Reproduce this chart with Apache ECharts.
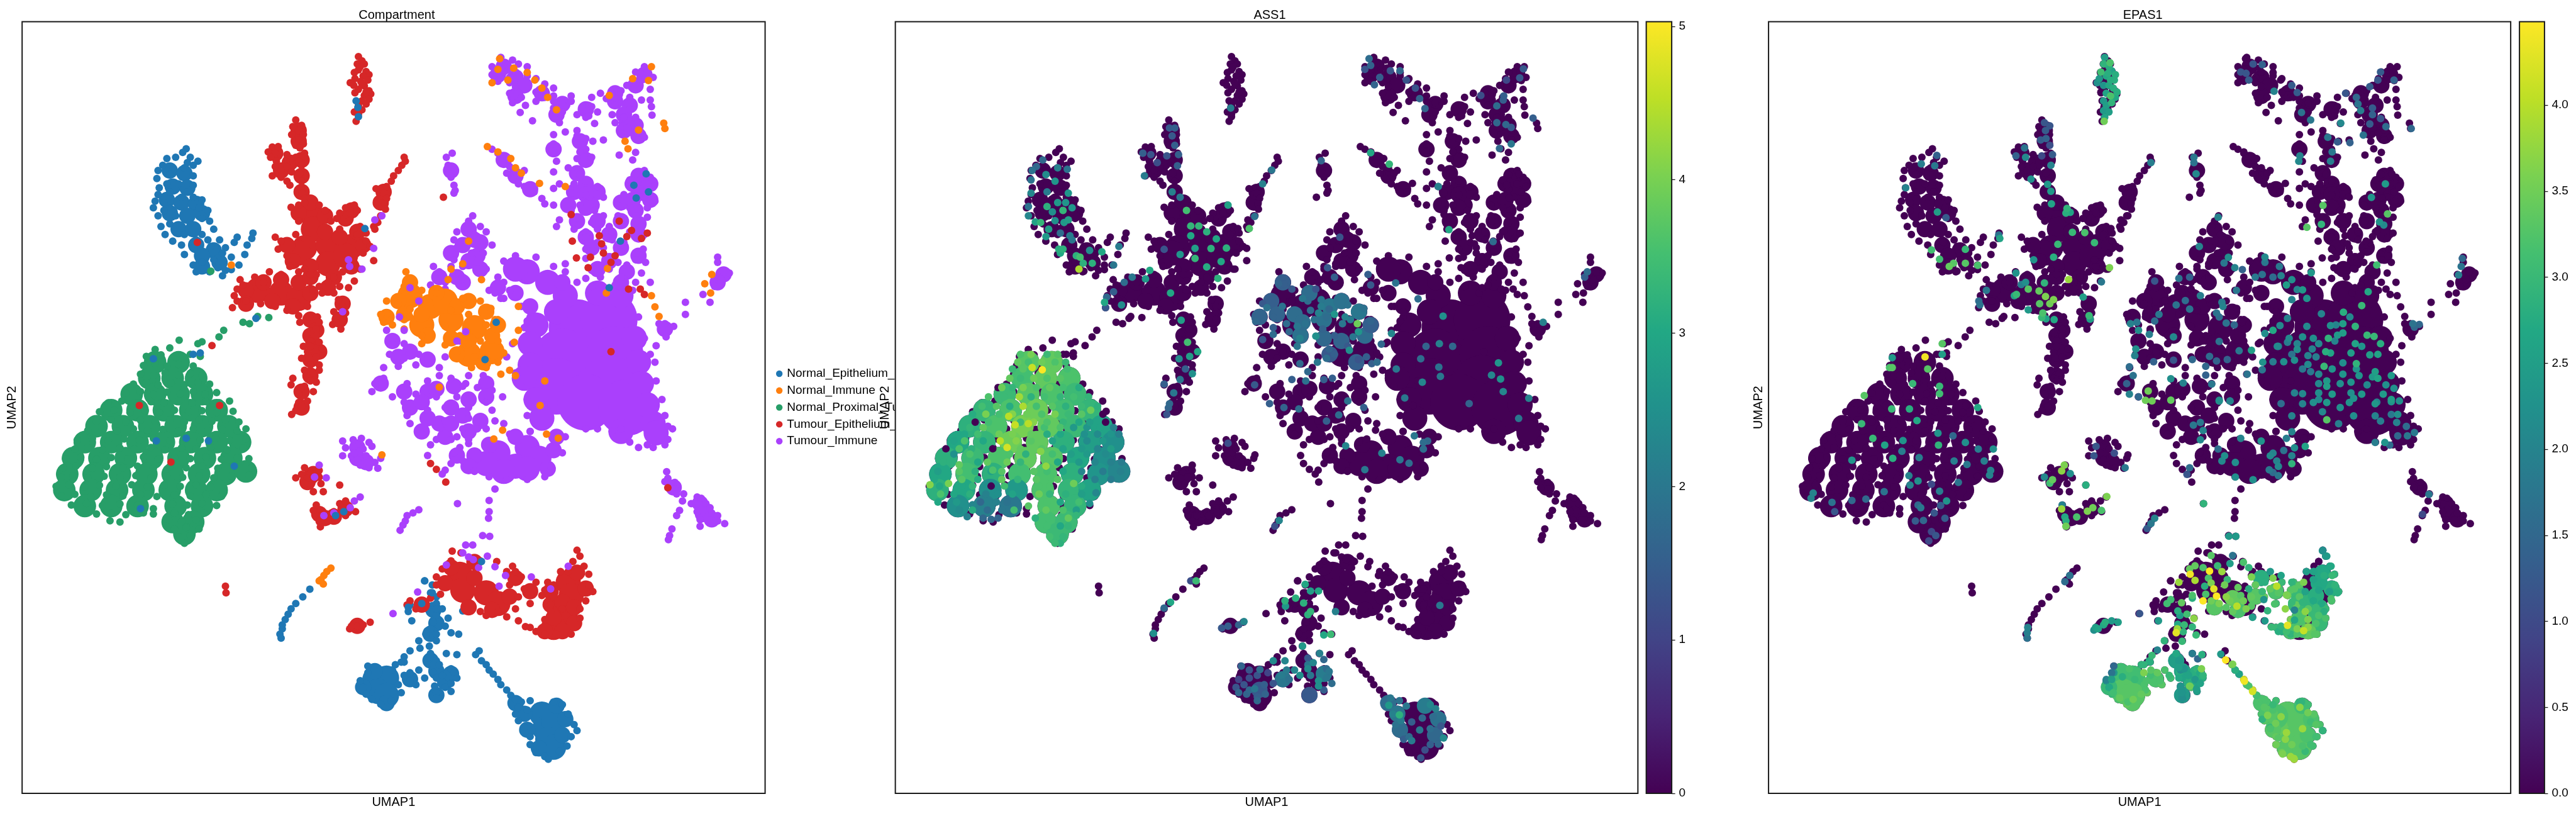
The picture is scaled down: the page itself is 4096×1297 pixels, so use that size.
<!DOCTYPE html>
<html><head><meta charset="utf-8">
<style>html,body{margin:0;padding:0;background:#fff}#c{width:4096px;height:1297px}</style>
<script src="https://cdn.jsdelivr.net/npm/echarts@6/dist/echarts.min.js"></script></head>
<body><div id="c"></div>
<script>
const panelTitles=['Compartment','ASS1','EPAS1'];
const compartments=['Normal_Epithelium_and_Vascular','Normal_Immune','Normal_Proximal_Tubules','Tumour_Epithelium_and_Vascular','Tumour_Immune'];
const ass1Ticks=[0,1,2,3,4,5];
const epas1Ticks=[0,0.5,1,1.5,2,2.5,3,3.5,4];
const ass1Max=5.03, epas1Max=4.485;

const epiDots=[[318,558],[312,572],[325,590],[300,590],[285,595],[338,605],[278,620],[320,610],[270,640],[295,640],[315,630],[330,620],[330,660],[268,670],[290,655],[305,690],[330,695],[272,705],[285,690],[320,720],[265,755],[262,780],[270,810],[345,750],[355,790],[358,830],[365,860],[345,880],[375,900],[405,890],[432,875],[430,895],[400,910],[422,920],[418,955],[385,930],[395,965],[408,995],[395,1012],[380,1035],[358,1020],[330,995],[315,955],[295,905],[282,880],[275,850],[270,730],[290,720],[310,740],[330,740],[280,760],[340,780],[280,790],[300,810],[345,820],[290,840],[315,880],[335,900],[355,900],[310,920],[330,930],[360,925],[380,950],[365,975],[345,985],[335,1020],[372,1005],[385,1015],
[480,2396],[478,2381],[482,2361],[482,2346],[487,2326],[492,2306],[497,2286],[505,2266],[517,2241],[529,2212],
[725,2181],[738,2196],[735,2226],[745,2241],[720,2256],[745,2266],[700,2271],[697,2296],[730,2286],[755,2286],[745,2311],[765,2321],[790,2294],[703,2331],[740,2336],[735,2361],[727,2381],[745,2381],[760,2351],[770,2376],[783,2381],[715,2406],[745,2406],[733,2426],[717,2434],[700,2444],[735,2454],[762,2454],[780,2458],[690,2466],[730,2471],[745,2481],[685,2486],[740,2496],[750,2496],[628,2501],[670,2516],
[628,2526],[615,2556],[620,2581],[625,2606],[635,2626],[650,2644],[668,2631],[685,2601],[680,2571],[690,2536],[700,2556],[710,2571],[715,2516],[725,2546],[740,2526],[745,2546],[755,2536],[770,2511],[775,2526],[780,2546],[770,2566],[760,2581],[770,2596],[742,2576],[745,2601],[745,2621],[675,2496],[690,2486],[700,2526],
[818,2444],[812,2458],[822,2481],[830,2496],[835,2516],[842,2531],[850,2551],[855,2571],[865,2591],[872,2611],[880,2626],[890,2636],[905,2631],
[885,2656],[900,2666],[945,2636],[960,2646],[885,2706],[895,2731],[970,2681],[980,2721],[985,2743],[975,2766],[905,2766],[905,2796],[915,2826],[930,2841],[936,2851],[955,2821],[968,2801],[880,2681]];
const epiMid=[[290,640],[315,650],[295,700],[320,705],[285,750],[310,760],[335,765],[290,800],[320,810],[345,800],[305,860],[330,860],[335,920],[365,940],[345,960],[375,985],[345,1000],[740,2290],[745,2340],[735,2380],[735,2480],[745,2520],[760,2560],[700,2550],[640,2520],[620,2580],[660,2640],[770,2530],[745,2610],[880,2640],[895,2680],[900,2740],[965,2700],[960,2760],[920,2810],[950,2650]];
const epiCore=[[640,2551],[660,2546],[645,2596],[660,2611],[925,2681],[930,2736],[945,2706],[935,2776],[945,2806]];
const epiStray=[[608,378],[611,403],[612,438],[623,858],[847,1210],[828,1350],[1040,1080],[262,1347],[330,1330],[342,1325],[318,1645],[267,1655],[356,1655],[240,1910],[400,1750],[437,1195],[1103,652],[1082,695],[1107,720],[1086,743],[1059,905],[573,1936],[587,1921],[822,2108],[725,2181],[738,2226],[720,2266],[745,2286],[697,2280]];

const proxDots=[[265,1312],[290,1306],[250,1338],[275,1332],[300,1340],[325,1330],[342,1338],[245,1372],[265,1365],[285,1375],[305,1368],[330,1374],[240,1405],[262,1410],[282,1400],[305,1408],[325,1402],[345,1410],[228,1442],[250,1436],[270,1444],[292,1438],[315,1444],[338,1436],[358,1442],[215,1476],[240,1470],[262,1480],[285,1472],[308,1478],[330,1470],[350,1480],[370,1474],[185,1512],[208,1506],[235,1514],[258,1508],[280,1512],[305,1505],[328,1514],[352,1508],[375,1512],[392,1506],[170,1546],[195,1540],[222,1548],[248,1542],[272,1548],[298,1540],[322,1546],[345,1542],[370,1548],[398,1544],[165,1582],[190,1576],[215,1584],[240,1578],[265,1582],[290,1576],[315,1584],[340,1578],[362,1582],[385,1576],[408,1584],[150,1616],[175,1612],[200,1618],[228,1610],[252,1616],[278,1612],[305,1618],[330,1610],[355,1616],[380,1612],[405,1618],[420,1610],[132,1652],[158,1646],[185,1654],[212,1648],[238,1652],[262,1646],[290,1654],[318,1648],[342,1652],[368,1646],[392,1654],[420,1648],[128,1686],[150,1680],[175,1688],[205,1682],[230,1686],[258,1680],[282,1688],[310,1682],[335,1686],[360,1680],[388,1688],[415,1682],[112,1722],[138,1716],[165,1724],[190,1718],[218,1722],[245,1716],[270,1724],[298,1718],[325,1722],[352,1716],[378,1724],[405,1718],[425,1722],[108,1756],[130,1750],[158,1758],[182,1752],[210,1756],[235,1750],[262,1758],[290,1752],[318,1756],[345,1750],[372,1758],[398,1752],[430,1756],[105,1792],[125,1786],[150,1794],[178,1788],[205,1792],[232,1786],[258,1794],[285,1788],[312,1792],[340,1786],[365,1794],[395,1788],[425,1784],[96,1826],[118,1820],[145,1828],[170,1822],[198,1826],[225,1820],[252,1828],[280,1822],[308,1826],[335,1820],[360,1828],[382,1848],[105,1862],[128,1856],[155,1864],[182,1858],[210,1862],[240,1856],[268,1864],[298,1858],[325,1862],[352,1856],[378,1864],[122,1896],[148,1890],[175,1898],[205,1892],[235,1896],[262,1910],[295,1892],[320,1896],[345,1890],[370,1898],[165,1930],[190,1926],[215,1932],[245,1926],[262,1930],[298,1926],[322,1932],[348,1926],[188,1955],[205,1960],[288,1952],[310,1958],[335,1952],[298,1986],[318,1980],[340,1986],[305,2015],[325,2010],[315,2040],[440,1188],[459,1192],[415,1210],[426,1215],[382,1240],[374,1265],[345,1283],[338,1290],[306,1277],[360,1018]];
const proxMid=[[265,1360],[305,1360],[255,1420],[295,1420],[335,1420],[225,1480],[265,1480],[305,1480],[345,1480],[190,1540],[235,1540],[280,1540],[325,1540],[370,1540],[165,1600],[210,1600],[255,1600],[300,1600],[345,1600],[390,1600],[145,1660],[190,1660],[235,1660],[280,1660],[325,1660],[370,1660],[410,1660],[125,1720],[170,1720],[215,1720],[260,1720],[305,1720],[350,1720],[395,1720],[115,1780],[160,1780],[205,1780],[250,1780],[295,1780],[340,1780],[385,1780],[420,1770],[110,1840],[155,1840],[200,1840],[245,1840],[290,1840],[335,1840],[370,1840],[145,1900],[190,1900],[235,1900],[300,1900],[345,1900],[295,1960],[330,1960],[315,2005]];
const proxMidAss1=[3.7,3.8,3.5,3.8,3.6,3.4,3.7,3.6,3.4,3.3,3.6,3.9,3.5,3.3,3.2,3.6,4,3.8,3.4,2.9,3,3.3,3.9,3.8,3.2,2.8,2.5,3.2,3.4,3.6,3.8,3.7,3,2.5,3,3.5,3.2,3.5,3.6,3.2,2.6,2.3,3.2,3,2.5,2.7,3.6,3.3,2.9,2.5,2.2,2,3.6,3.3,3.5,3.4,3.4];

const tumDots=[[612,212],[618,228],[610,240],[622,240],[612,262],[625,268],[605,272],[630,280],[620,285],[606,295],[628,300],[598,310],[616,305],[604,320],[622,322],[612,335],[630,340],[606,348],[633,352],[622,358],[630,372],[618,378],[625,390],[612,395],[605,420],[618,412],[612,428],[608,455],[615,250],[618,315],[625,345],
[505,450],[500,475],[515,470],[510,490],[498,505],[518,505],[510,525],[505,545],[518,540],[512,555],[465,552],[475,550],[458,570],[470,575],[462,590],[490,580],[505,590],[520,575],[520,590],[472,605],[488,605],[510,605],[470,625],[490,625],[480,640],[498,645],[515,620],[512,650],[465,660],[480,665],[490,680],[495,695],[515,680],[514,705],[516,725],[520,745],
[690,590],[692,605],[686,620],[680,640],[672,660],[668,680],[660,700],[642,708],[655,725],[660,745],[657,765],[658,785],[650,810],[645,835],[638,850],[625,875],[640,860],[605,770],[590,780],[598,800],[580,800],[610,790],[575,820],[595,830],[615,850],[497,778],
[510,770],[520,760],[545,770],[555,790],[510,830],[565,830],[580,860],[505,880],[470,890],[480,905],[475,935],[490,960],[610,880],[625,905],[632,925],[620,950],[638,978],[615,1010],[600,990],[585,1020],[570,1040],[540,1030],[520,1010],[495,1000],[605,1055],[580,1075],[595,1080],[560,1060],[550,1100],[545,1075],
[410,1050],[435,1040],[460,1020],[480,1030],[510,1020],[530,1030],[405,1085],[400,1110],[405,1130],[397,1155],[420,1130],[445,1140],[470,1150],[490,1165],[525,1150],[535,1090],[415,1070],[450,1060],
[570,1100],[578,1125],[585,1150],[590,1175],[585,1200],[570,1170],[568,1218],[582,1235],[510,1185],[528,1190],[542,1190],[512,1210],[545,1210],[540,1235],[525,1250],[540,1260],[545,1285],[530,1280],[518,1300],[550,1310],[525,1320],[540,1340],[515,1345],[530,1370],[545,1370],[520,1390],[535,1400],[545,1390],[525,1420],[540,1435],[500,1420],[497,1445],[520,1450],[535,1470],[510,1480],[525,1506],[510,1511],[505,1541],[498,1556],[515,1525],[530,1300],[530,1430],
[520,1756],[545,1766],[530,1776],[515,1781],[505,1794],[525,1796],[545,1791],[520,1816],[548,1816],[580,1821],[535,1846],[552,1846],[540,1896],[535,1916],[550,1936],[545,1958],[547,1978],[565,1936],[580,1891],[590,1881],[595,1906],[607,1921],[590,1936],[575,1946],[560,1956],[570,1921],
[597,2361],[610,2351],[620,2346],[632,2336],[600,2351],[385,2201],[386,2226],
[772,2069],[787,2076],[770,2106],[820,2106],[848,2108],[755,2136],[745,2166],[745,2196],[752,2231],[735,2246],[700,2256],[695,2271],[710,2286],[820,2296],[830,2311],[850,2296],[865,2316],[880,2286],[885,2331],[897,2353],[875,2126],[865,2146],[880,2146],[890,2166],[870,2196],[895,2211],[885,2241],[905,2266],[915,2186],[935,2186],[930,2216],[945,2241],[940,2271],[940,2296],[985,2066],[990,2088],[978,2108],[997,2126],[957,2146],[1005,2156],[945,2196],[1005,2196],[1012,2221],[1000,2256],[990,2286],[990,2321],[975,2381],[950,2381],[930,2381],[915,2371],[905,2356],[930,2326],[960,2286],[970,2146],[925,2236],
[735,1740],[745,1762],[761,1810],[757,740],[362,1297]];
const tumMid=[[510,490],[510,530],[470,575],[495,610],[515,600],[480,640],[515,660],[515,720],[530,760],[650,760],[655,720],[600,790],[590,820],[510,800],[555,810],[555,870],[580,890],[490,920],[500,980],[530,1000],[600,1000],[620,920],[570,1040],[610,870],[420,1090],[450,1060],[480,1050],[510,1060],[530,1100],[500,1150],[465,1130],[420,1140],[530,1040],[560,1080],[585,1140],[580,1200],[530,1200],[535,1290],[530,1350],[530,1410],[515,1470],[515,1530],[540,1240],[545,1320],[530,1260],[530,1790],[535,1780],[525,1810],[545,1930],[590,1910],[570,1940],[555,1945],[770,2130],[810,2110],[810,2170],[760,2190],[870,2240],[800,2280],[840,2290],[880,2170],[905,2220],[940,2220],[940,2270],[985,2150],[1000,2210],[960,2260],[980,2280],[945,2320],[980,2340],[930,2370],[960,2370],[720,2270],[610,2350]];
const tumCore=[[530,800],[535,860],[520,930],[560,920],[600,925],[560,990],[510,950],[590,960],[440,1090],[480,1100],[510,1120],[785,2156],[790,2216],[830,2226],[850,2266],[970,2186],[975,2236],[965,2316],[945,2356]];
const tumStray=[[337,910],[238,1522],[375,1522],[292,1735],[1023,885],[977,905],[1027,915],[1050,960],[1043,985],[1030,950],[984,968],[1008,965],[1105,875],[1095,895],[1070,888],[1057,830],[1078,865],[1073,1085],[1100,1105],[975,805],[1004,1005],[1093,1085],[1043,1320],[1140,1831]];

const orangeDots=[[693,1020],[700,1050],[690,1075],[720,1090],[660,1130],[660,1180],[650,1180],[655,1210],[690,1200],[690,1235],[720,1290],[760,1295],[780,1320],[810,1340],[850,1360],[860,1325],[850,1280],[850,1200],[820,1130],[790,1120],[745,1100],[712,1130],[770,1165],[800,1180],[830,1220],[760,1225],[740,1180],[700,1160],[670,1220],[885,1240],[885,1150],[838,1158],[878,1285],[845,1200],[680,1140],[700,1190],[720,1260],[785,1260],[800,1290],[820,1280],
[565,2133],[558,2146],[553,2161],[545,2181],[552,2193],[548,2176]];
const orangeMid=[[680,1130],[690,1180],[700,1060],[720,1180],[745,1100],[780,1150],[800,1130],[830,1170],[840,1260],[800,1280],[770,1270],[730,1260],[660,1190],[850,1220],[780,1330],[825,1360]];
const orangeCore=[[735,1150],[770,1200],[720,1220],[810,1230],[800,1330],[840,1320],[700,1110],[760,1130]];
const orangeStray=[[770,1010],[790,990],[765,1050],[822,1050],[870,1390],[880,1410],[930,1430],[922,1522],[750,1453],[855,1405],[805,1380],[830,1380],[800,905],[933,1630],[953,1645],[843,1648],[858,1615],[652,1708],[395,995],[853,220],[850,260],[840,310],[867,300],[877,255],[900,272],[913,300],[925,330],[935,365],[950,412],[1080,295],[1107,302],[1112,250],[1040,358],[1090,488],[1067,530],[1072,558],[1133,462],[1135,482],[832,550],[850,570],[872,595],[880,630],[890,650],[921,688],[965,700],[1215,1030],[1203,1065],[1213,1100],[1118,1152],[1125,1188],[1035,1100],[1112,1110],[1037,1008]];

const immDots=[[855,215],[875,225],[840,250],[860,240],[885,240],[900,250],[840,280],[860,270],[880,270],[900,285],[850,305],[870,310],[915,295],[930,315],[880,325],[945,330],[870,350],[890,365],[915,345],[930,365],[875,385],[897,395],[915,380],[945,380],[888,422],[909,453],[945,360],[855,260],[870,290],
[975,360],[960,385],[975,380],[945,405],[960,420],[945,435],[955,460],[985,430],[1000,440],[945,505],[965,495],[985,490],[1005,435],[1010,365],[1025,350],[1035,370],[1020,420],[1015,463],[985,510],[1000,520],[1012,530],[1030,525],[1000,560],[1010,590],[990,570],[985,595],[945,540],[945,570],[950,605],[945,645],[970,630],[985,650],[945,707],[955,690],[1005,395],[1010,400],
[1100,250],[1085,270],[1115,290],[1095,300],[1070,320],[1060,340],[1110,335],[1045,350],[1075,365],[1095,375],[1110,375],[1112,400],[1050,395],[1075,410],[1045,430],[1065,440],[1085,440],[1113,432],[1050,460],[1070,480],[1090,470],[1060,500],[1080,500],[1100,515],[1090,525],[1057,582],[1085,572],[1080,600],[1105,270],
[990,655],[980,690],[1000,680],[1020,700],[975,725],[1000,730],[1030,740],[965,760],[990,770],[1015,790],[1030,810],[975,790],[955,825],[950,850],[985,820],[1010,835],[980,860],[1000,870],[1020,860],[1040,850],
[1100,640],[1085,655],[1110,665],[1075,675],[1100,690],[1115,700],[1085,710],[1065,730],[1095,740],[1118,755],[1055,770],[1075,780],[1105,780],[1055,810],[1085,810],[1105,815],[1065,840],[1095,850],[1045,870],[1075,870],[1100,880],
[1000,890],[1020,910],[1045,900],[1065,910],[1000,935],[1030,930],[1060,945],[1098,935],[1085,955],[1000,970],[1055,985],[1085,975],[1102,985],[1010,1015],[1040,1010],[1070,995],[1095,1025],[1025,1040],[1060,1040],[1085,1060],[1110,1060],[1000,1045],[965,990],
[840,560],[850,575],[860,590],[858,610],[870,625],[865,650],[880,640],[895,640],[875,670],[885,690],[895,700],[912,720],[925,745],[930,765],[945,770],
[772,575],[762,590],[765,620],[767,650],[770,665],[775,695],[777,715],[775,725],
[807,810],[800,830],[795,850],[820,850],[780,870],[810,880],[830,870],[775,900],[795,905],[825,905],[840,920],[780,930],[805,950],[825,950],[775,975],[815,985],[790,1000],
[860,980],[880,960],[915,965],[945,1000],[965,1020],[830,1010],[850,1040],[860,1060],[870,1090],[855,1120],[835,1090],
[985,1060],[1010,1075],[1050,1070],[1080,1090],[1090,1190],[1100,1270],[1110,1330],[1118,1360],[1120,1430],[1130,1500],[1135,1560],[1140,1600],[1148,1610],[1140,1650],[1135,1670],[1115,1680],[1090,1680],[1075,1660],[1045,1620],[1020,1610],[1000,1610],[890,1150],[905,1190],[895,1230],[875,1290],[865,1340],[880,1400],[890,1450],[900,1500],[900,1560],[905,1620],[1060,1610],[1105,1670],
[965,1640],[950,1660],[960,1700],[940,1750],[930,1790],[900,1800],[865,1800],[835,1790],[810,1770],[790,1730],[785,1680],[800,1665],[830,1660],[870,1630],[905,1620],[775,1700],[770,1740],[760,1765],[755,1780],[730,1710],
[740,1000],[750,1020],[770,1000],[735,1070],[760,1060],[790,1040],[790,1075],[760,1085],[845,1100],[860,1120],[905,1170],[900,1205],[660,1240],[670,1270],[690,1290],[665,1330],[655,1380],[680,1375],[690,1345],[700,1320],[715,1330],[710,1370],[730,1345],[760,1340],[750,1380],[785,1280],[800,1410],[825,1410],[795,1440],
[640,1440],[655,1420],[635,1470],[670,1490],[690,1510],[695,1440],[730,1430],[770,1420],[750,1410],[790,1450],[815,1455],[840,1465],[858,1490],[710,1480],[745,1490],[780,1490],[700,1540],[730,1540],[760,1530],[800,1530],[830,1510],[840,1540],[845,1580],[860,1590],[830,1610],[745,1650],[735,1670],[770,1650],[800,1650],[720,1630],[695,1560],[700,1590],[725,1600],[760,1580],[800,1570],[815,1610],[790,1610],[780,1640],
[585,1656],[603,1651],[617,1646],[630,1661],[635,1676],[590,1681],[605,1676],[620,1686],[585,1711],[600,1711],[610,1726],[625,1711],[650,1721],[640,1736],[615,1746],[630,1756],[645,1758],[605,1701],
[715,1914],[705,1926],[695,1936],[692,1956],[688,1971],[683,1991],
[1138,1771],[1140,1796],[1135,1808],[1152,1811],[1152,1836],[1155,1854],[1167,1854],[1165,1881],[1180,1891],[1190,1866],[1197,1871],[1205,1891],[1212,1906],[1160,1916],[1155,1936],[1190,1921],[1215,1926],[1195,1951],[1210,1951],[1195,1976],[1225,1936],[1237,1966],[1225,1956],[1147,1986],[1143,2011],[1141,2026],
[1225,965],[1225,985],[1245,1025],[1235,1020],[1230,1050],[1220,1075],[1200,1105],[1212,1135],[1170,1135],[1170,1180],[1125,1215],[1150,1225],[1135,1215],[1137,1265],[1120,1298]];
const immMid=[[860,250],[880,290],[850,280],[895,320],[925,350],[880,360],[960,390],[950,430],[1050,380],[1075,395],[1065,430],[1085,470],[1070,460],[1100,280],[1085,320],[1050,350],[1090,510],[1065,490],[1000,410],[990,530],[1000,600],[945,560],[985,650],[1000,690],[980,720],[1020,720],[970,770],[1010,770],[1020,830],[985,830],[1000,890],[1040,880],[1090,660],[1080,690],[1110,690],[1060,760],[1110,750],[1060,830],[1090,840],[1090,880],[1010,930],[1060,930],[1090,960],[1040,980],[1070,1020],[1020,1010],[1060,1060],[1000,730],[1000,780],[1095,720],[1085,790],[1080,750],[810,900],[815,960],[800,860],[790,920],[820,910],[800,980],[820,1010],[770,950],[700,1320],[730,1350],[670,1280],[680,1340],[650,1440],[690,1470],[730,1470],[775,1450],[830,1440],[830,1490],[700,1530],[730,1570],[820,1580],[720,1620],[760,1640],[800,1620],[780,1040],[750,1040],[790,1060],[850,1080],[880,1100],[905,1150],[960,1060],[770,1530],[750,1590],[800,1500],[770,1590],[745,1460],[720,1510],[790,1560],[780,1710],[810,1710],[800,1750],[945,1690],[935,1760],[880,1640],[835,1670],[950,1640],[860,600],[880,660],[905,710],[770,640],[1195,1890],[1200,1930],[1215,1950],[1150,1830],[610,1680],[610,1720],[625,1735],[1235,1030],[1225,1060],[1135,1235]];
const immCore=[[900,1020],[935,1060],[965,1110],[880,1010],[1020,1100],[1060,1110],[950,1170],[915,1220],[905,1290],[905,1370],[895,1420],[915,1500],[925,1570],[1083,1270],[1090,1360],[1095,1440],[1105,1520],[1115,1590],[1120,1625],[1060,1620],[850,1700],[900,1680],[830,1740],[880,1750],[920,1720],[860,1770],[900,1760]];
const immGiant=[[985,1230],[1040,1200],[960,1340],[1050,1330],[950,1450],[1040,1440],[1000,1510],[1070,1530]];
const immStray=[[640,825],[652,810],[638,932],[597,1000],[618,1010],[595,975],[585,1170],[545,1746],[537,1791],[557,1794],[615,1866],[605,1881],[598,1906],[553,1936],[570,1926],[845,1836],[835,1879],[781,1891],[835,1921],[834,1946],[824,2011],[836,2014],[795,2046],[807,2046],[790,2076],[800,2091],[832,2088],[808,2101],[762,2121],[817,2131],[845,2128],[863,2161],[907,2166],[852,2201],[940,2211],[970,2126],[713,2223],[671,2304],[700,1080],[682,1190],[715,1130],[690,1240],[780,1280],[795,1245]];

const ass1Mids=[[741,1130,1.5],[752,1180,1.6],[763,1060,1.5],[785,1180,1.8],[813,1100,1.8],[851,1150,2],[873,1130,1.9],[906,1170,2],[917,1260,1.8],[873,1280,1.6],[840,1270,1.7],[796,1260,1.9],[719,1190,1.6],[928,1220,1.5],[851,1330,1.4],[901,1360,1.5],[840,1200,1.9],[800,1210,1.8],[840,2530,2.1],[813,2610,1.4],[763,2550,2],[719,2590,1.4],[961,2640,1.8],[978,2680,2],[983,2740,1.8],[1055,2700,1.9],[1049,2760,1.7],[1030,2650,2.1]];
const ass1Spots=[[270,1330,3.6],[290,1330,4],[320,1330,3.4],[340,1330,3.7],[265,1360,3.8],[285,1360,3.5],[310,1360,3.9],[335,1360,3.6],[355,1360,3.4],[255,1385,3.4],[275,1385,3.7],[292,1380,4.6],[311,1388,5],[335,1385,3.8],[358,1385,3.5],[250,1420,3.8],[270,1420,3.4],[295,1420,3.9],[320,1420,3.6],[345,1420,3.7],[372,1420,3.6],[228,1455,0],[235,1455,3.9],[255,1455,3.3],[275,1455,4],[300,1455,3.6],[325,1455,3.8],[350,1455,3.5],[380,1455,3.1],[210,1490,3.6],[240,1490,3.4],[268,1490,4.3],[290,1490,3.2],[315,1490,3.5],[345,1490,3.3],[370,1490,3.5],[398,1490,3.3],[198,1525,3.5],[225,1525,3.7],[250,1525,3.1],[275,1525,4.4],[300,1525,3.5],[330,1525,3.7],[355,1525,3.2],[385,1525,3.4],[415,1525,3.2],[180,1555,3.1],[205,1555,4],[230,1555,3.5],[255,1555,4.1],[282,1555,3.9],[310,1555,3.6],[335,1555,4],[360,1555,3.4],[385,1555,3.7],[402,1540,3.9],[425,1555,0],[185,1585,0],[210,1585,3.5],[248,1563,4.5],[270,1585,3.4],[295,1585,4.1],[320,1585,3.6],[350,1585,3.3],[380,1585,3],[400,1585,2.8],[430,1585,0],[175,1605,3.3],[200,1605,3.8],[260,1595,4.6],[285,1590,4.5],[315,1605,3.5],[345,1605,3.6],[370,1605,2.7],[395,1605,2.6],[420,1605,2.9],[445,1605,2.2],[165,1630,3],[190,1630,3.5],[230,1630,3.9],[255,1630,4],[290,1630,3.8],[320,1630,3.1],[345,1630,3],[390,1630,2.5],[415,1630,2.4],[440,1630,2.6],[455,1630,2.2],[145,1655,2.9],[165,1655,3.6],[200,1655,3],[232,1655,4.5],[262,1655,4.1],[290,1655,3.7],[330,1655,2.9],[365,1655,3.2],[395,1655,2.4],[425,1655,2.7],[130,1685,0],[155,1685,3.6],[178,1685,3.2],[218,1685,0],[245,1680,4.7],[270,1685,3.8],[310,1685,3.7],[350,1685,2.9],[385,1685,2.7],[415,1685,2.3],[440,1685,2.8],[145,1705,2.5],[175,1705,3.6],[208,1735,3.8],[250,1705,3.6],[280,1705,3.2],[308,1695,4.1],[330,1705,3.5],[365,1705,2.8],[395,1705,2.7],[430,1705,2.4],[125,1735,3.2],[155,1745,3.8],[190,1735,3],[218,1765,3.6],[245,1735,3.9],[270,1735,3.3],[318,1750,4.2],[340,1735,3],[380,1735,2.7],[410,1735,2.3],[440,1735,2.2],[460,1735,2.1],[115,1770,2.8],[155,1770,3.7],[185,1770,3.2],[215,1770,2.9],[235,1770,3.7],[265,1770,3.5],[295,1770,3.7],[320,1770,3.5],[350,1770,3],[385,1770,2.3],[425,1770,2.1],[458,1770,2.2],[108,1800,3],[135,1815,4],[160,1800,3.7],[190,1800,3.1],[235,1800,3.8],[265,1800,3.3],[300,1800,3.7],[340,1800,3.7],[370,1815,3.9],[410,1800,2.2],[440,1800,2.1],[100,1820,4.1],[118,1825,3],[160,1825,3],[180,1825,3.3],[215,1825,0],[240,1825,3.5],[305,1825,3.6],[325,1825,3.6],[385,1825,3.1],[120,1855,3.6],[145,1855,3],[175,1855,3.2],[205,1855,2.2],[228,1855,2.5],[255,1855,2.9],[305,1855,3.9],[325,1855,3.3],[355,1855,3.2],[385,1855,2.8],[412,1850,2.3],[115,1885,3],[150,1885,2.7],[180,1895,2.3],[195,1885,1.7],[225,1885,2.2],[245,1885,1.9],[285,1900,3.7],[320,1885,3.6],[345,1885,3],[380,1885,3.5],[400,1890,2.5],[155,1915,2.4],[180,1915,3.1],[208,1915,1.8],[235,1915,2],[258,1915,3.5],[318,1915,3.8],[350,1915,3.6],[375,1915,2.8],[170,1940,2.2],[200,1945,1.7],[215,1950,1.7],[228,1945,1.6],[298,1945,3.2],[322,1945,3.5],[360,1945,3.8],[375,1935,3.3],[320,1975,3.5],[345,1975,3],[360,1975,3.3],[325,2015,3.5],[350,2015,3.3],[335,2040,3.4],[345,2040,3.2],
[312,600,1.7],[300,625,1.7],[292,640,1.9],[290,675,1.9],[340,630,2.2],[318,655,2.4],[358,635,1.9],[335,680,2.6],[290,725,2.3],[320,720,2.1],[360,725,2.6],[340,760,2.7],[355,760,2.6],[320,775,3.2],[285,775,1.9],[330,795,2.5],[350,790,3.3],[367,780,2.6],[285,810,2.3],[298,833,2.9],[308,835,3.3],[335,828,2.5],[352,835,2.7],[360,825,2.8],[323,860,2.8],[345,875,1.8],[318,888,2.7],[363,885,2.1],[367,900,2],[342,935,3.1],[350,935,3.2],[400,940,2.4],[375,960,3.2],[382,965,3.5],[423,945,3],[388,988,3.2],[405,988,3.2],[345,950,3],[380,1010,4.4],[455,925,2.1],[445,995,2],
[550,480,1.4],[560,480,1.5],[555,510,1.4],[560,545,1.5],[500,575,1.5],[515,580,1.3],[545,585,1.3],[567,580,1.5],[527,610,1.2],[565,622,1.5],[503,660,2.1],[555,720,2.2],[570,740,2],[725,690,2.2],[742,638,2],[710,812,1.9],[700,858,3.6],[660,770,2.9],[582,790,3.5],[590,848,3.3],[605,848,3.3],[620,870,3.2],[590,885,3],[638,897,3],[598,932,2.8],[628,933,3.2],[657,931,3.2],[540,936,1.3],[570,955,2.6],[598,970,3.3],[647,982,3],[620,1002,3.1],[513,1015,3],[505,1047,2.7],[480,1040,2],[465,1060,1.8],[641,1045,3.2],[552,1100,3],[445,1095,1.5],[432,1115,1.7],[428,1135,3],[460,1145,2.4],[430,1155,1.4],[572,1202,2.8],[584,1285,3.5],[603,1320,3],[588,1338,2.8],[568,1347,2.4],[580,1385,1.5],[593,1403,2.5],[570,1425,2],[540,1442,1.5],[558,1475,2],
[835,603,1.6],[928,573,3],[963,616,3.3],[1055,700,2.2],[1075,862,3],[1158,907,1.8],[870,890,1.3],[1252,1210,2.2],[1335,1020,1.8],[1330,1040,1.5],[1170,557,1.7],[1192,540,2],[1165,460,1.7],[1182,467,1.7],[1192,478,1.4],[1178,360,1.5],[1177,375,1.5],[1165,397,1.8],[1183,300,1.1],[1208,292,1.4],[1215,258,1.4],[1030,407,1.6],[1020,370,1.6],[1012,330,1.3],[995,300,1.3],[983,265,1.7],[965,265,1.3],[945,290,1.5],[935,318,1.6],[925,220,1.8],[928,245,1.6],[917,260,1.3],[665,405,2.1],[1135,358,1.2],[1233,443,1.5],
[755,1065,1.6],[765,1065,1.5],[780,1085,1.4],[800,1120,2],[810,1130,1.8],[825,1085,1.3],[835,1125,2],[835,1150,2.1],[830,1175,2.2],[860,1180,2.6],[845,1190,1.8],[880,1190,2.2],[885,1145,1.9],[915,1158,1.9],[725,1140,1.4],[733,1155,1.9],[762,1150,1.9],[745,1190,1.6],[712,1207,1.7],[745,1230,1.5],[745,1255,1.8],[725,1275,1.3],[790,1225,2],[805,1215,1.9],[795,1270,2.2],[790,1300,2],[825,1262,2.5],[838,1235,1.6],[860,1260,1.5],[890,1200,2.1],[903,1215,3.9],[905,1245,2.6],[895,1265,2],[928,1205,1.6],[850,1310,1.6],[860,1330,1.5],[888,1315,2.5],[920,1340,1.5],[930,1365,1.5],[940,1360,1.8],[905,1350,1.3],[948,1292,1.7],[967,1252,2.3],[885,1300,1.4],[845,1345,1.8],[828,1360,2],[770,1215,1.8],[775,1245,1.7],[815,1165,1.8],[822,1200,1.9],[850,1160,1.7],[875,1215,2],
[923,1030,1.5],[975,1062,1.9],[928,1070,1.4],[860,1040,1.5],[847,1005,1.4],[1017,1122,1.8],[1064,1187,2.5],[1032,1300,1.6],[1057,1290,2.2],[1082,1300,1.7],[1022,1347,1.8],[1056,1378,1.9],[1168,1362,2.6],[976,1385,2],[1059,1413,2],[1155,1408,2.3],[1172,1423,2.5],[1025,1435,2.3],[1177,1470,2.3],[992,1494,2],[1225,1495,2.2],[1113,1515,1.6],[885,1505,1.9],[710,1445,1.4],[738,1515,1.5],[765,1530,1.6],[793,1535,1.8],[806,1430,1.9],[840,1425,1.5],[810,1395,1.7],[795,1365,1.7],[856,1420,1.5],[780,1425,1.5],[915,1530,1.5],[845,1581,1.5],[868,1558,1.8],[1206,1571,2],[1010,1636,2],[1027,1661,1.8],[1035,1656,1.7],[881,1674,2.3],[1027,1686,1.8],[949,1701,2.2],[983,1726,2],[1000,1739,1.8],[917,1763,2],[660,1664,1.2],
[550,1516,1.7],[548,1531,1.6],[545,1556,1.3],[756,1954,2.3],[748,1976,1.2],[600,2181,3.4],[590,2181,1.2],[552,2261,3],[540,2283,1.7],[520,2378,2.5],
[805,2194,3],[815,2219,2.8],[830,2219,3],[787,2246,3.2],[767,2256,3.2],[802,2264,3.2],[768,2276,2.7],[815,2296,3.3],[810,2308,3.2],[862,2296,2.2],[1058,2273,2],[800,2426,2.7],[840,2384,3],[853,2382,3.4],[690,2334,2.3],[680,2346,1.6],[660,2351,1.5],[648,2358,1.4],
[685,2501,1.6],[745,2481,2.4],[767,2481,2.3],[832,2453,2.2],[840,2476,1.7],[810,2471,1.4],[810,2496,2],[820,2488,2.3],[720,2514,1.8],[700,2516,1.3],[680,2551,1],[700,2546,1.2],[715,2536,1.3],[735,2526,1],[675,2581,1.3],[690,2571,1.3],[710,2586,2],[700,2591,1.7],[728,2571,1.5],[745,2566,1.3],[680,2601,1.7],[695,2606,1.6],[715,2616,1.5],[730,2606,1.6],[715,2631,1.7],[760,2536,2.1],[770,2516,2.1],[775,2551,1.9],[785,2516,2.3],[795,2536,2.5],[810,2511,2.4],[815,2536,2],[830,2556,2.5],[845,2511,1.8],[850,2521,2],[845,2546,2],[830,2576,2.5],[840,2591,1.5],[855,2566,1.8],[810,2616,1.4],
[962,2648,2.7],[965,2621,2],[982,2631,1.9],[995,2651,2],[982,2684,3.2],[970,2681,2.2],[985,2706,2.1],[975,2721,1.9],[1005,2711,1.5],[1025,2696,1.7],[1040,2646,2.3],[1050,2661,2.2],[1045,2691,1.8],[1020,2741,2],[1040,2736,1.8],[1060,2726,1.4],[1000,2766,1.8],[990,2776,1.5],[1005,2781,2.1],[1065,2771,2.4],[1040,2796,1.5],[1055,2794,1.7],[1022,2846,1.3],[1030,2816,1.2]];

const epas1Tints=[[1032,2681,3.3],[1038,2736,3.4],[1054,2706,3.3],[1043,2776,3.3],[1054,2806,3.3],[1010,2690,3.2],[722,2551,3.1],[744,2546,3.1],[727,2596,3.3],[744,2611,3.3]];
const epas1Mids=[[722,2520,3.1],[700,2580,3],[744,2640,3.3],[787,2550,3.2],[863,2530,2.8],[836,2610,2.4],[853,2560,2.8],[836,2520,2.6],[825,2480,2.5],[983,2640,3.2],[999,2680,3.3],[1005,2740,3.3],[1076,2700,3.2],[1070,2760,3.2],[1027,2810,3.3],[1059,2650,3.1],[1097,2150,2.7],[1114,2210,2.8],[1070,2260,2.9],[1092,2280,2.9],[1054,2320,3.2],[1092,2340,3],[1038,2370,3.2],[1070,2370,3.4],[1048,2220,3],[1048,2270,3],[1010,2220,3.2],[972,2240,3.3],[940,2290,3.2],[896,2280,3.3],[983,2170,2.8],[930,2246,3.4],[1090,2190,2.7],[1085,2236,2.8],[1085,2306,3]];
const epas1Edges=[[628,2526,2.4],[615,2556,2.2],[620,2581,2.6],[625,2606,3],[635,2626,3.2],[650,2644,3.4],[668,2631,3.3],[685,2601,3.4],[680,2571,3.2],[690,2536,3.1],[700,2556,3.2],[710,2571,3.3],[715,2516,3.2],[725,2546,3.1],[740,2526,2.8],[745,2546,2.6],[755,2536,2.7],[770,2511,2.9],[775,2526,2.7],[780,2546,2.8],[770,2566,2.6],[760,2581,3.2],[770,2596,2.5],[742,2576,2.3],[745,2601,2.3],[745,2621,2.2],[675,2496,2.9],[690,2486,2.8],[700,2526,3.1],[830,2496,3.5],[835,2516,2.9],[842,2531,2.7],[850,2551,4.2],[855,2571,3.2],[865,2591,4.2],[872,2611,3.1],[880,2626,3.2],[890,2636,3.2],[905,2631,3.1],[885,2656,3.3],[900,2666,3.2],[945,2636,2.9],[960,2646,3.1],[885,2706,3.3],[895,2731,3],[970,2681,3.3],[980,2721,3.2],[985,2743,2.9],[975,2766,3.2],[905,2766,3.4],[905,2796,3.5],[915,2826,3.5],[930,2841,3.8],[936,2851,3.9],[955,2821,3.2],[968,2801,3.1],[880,2681,3.2],
[935,2186,3.1],[930,2216,3.3],[945,2241,3.3],[940,2271,3.4],[940,2296,3.2],[985,2066,2.2],[990,2088,2.4],[978,2108,0],[997,2126,2.7],[957,2146,2.5],[1005,2156,2.9],[945,2196,3.3],[1005,2196,2.8],[1012,2221,2.9],[1000,2256,3.2],[990,2286,3],[990,2321,3.2],[975,2381,3.3],[950,2381,3.2],[930,2381,2.9],[915,2371,2.8],[905,2356,3],[930,2326,3.6],[960,2286,3.3],[970,2146,2.7],[925,2236,3.5],[870,2196,3.4],[895,2211,3.4],[885,2241,3.4],[905,2266,3.1],[915,2186,3]];
const epas1Spots=[[692,215,2.5],[702,235,3.2],[690,240,2.9],[685,270,3.1],[705,265,2.6],[712,280,2.8],[695,285,2.7],[682,295,2.4],[703,300,2.8],[678,310,2.2],[700,320,2.7],[708,330,2.8],[690,320,2.3],[715,345,2.8],[703,360,3.2],[695,350,2.6],[712,365,2.7],[690,378,2.4],[705,385,2.9],[695,395,2.5],[690,415,2.4],[700,420,2.5],[692,440,2.6],[691,455,3.5],[700,250,2.8],[685,345,0],[698,275,2.8],[710,300,2.8],
[580,460,1.2],[590,472,1.2],[582,490,1.3],[573,525,1.3],[583,520,1.4],[590,545,1.1],[543,555,1.7],[527,585,1.4],[545,590,2.1],[575,585,1],[595,580,1.3],[592,620,2],[555,672,2.2],[586,692,2.4],[592,718,2.4],[593,765,2.6],[622,782,2.9],[628,797,2.6],[620,800,2.8],[632,872,3],[655,873,3.2],[605,917,3],[673,911,3],[597,965,2.8],[560,975,2.3],[701,1005,3.6],[527,1025,2.3],[625,1049,3.8],[686,1058,1.8],[580,1062,2.9],[545,1060,2.2],[537,1068,1.9],[550,1085,3.3],[570,1092,3.4],[528,1105,3],[524,1110,2.6],[582,1113,3.6],[597,1125,3.6],[590,1140,3.5],[571,1140,3.3],[652,1115,2.5],[550,1163,2.4],[577,1175,3.2],[575,1192,3],[583,1197,2.6],[598,1200,2.7],[663,1185,3],[665,1198,2.5],[458,1130,1.6],[460,1145,1.7],[472,1090,1.8],
[380,583,1.4],[351,615,1.9],[376,622,1.8],[322,705,2],[381,796,2.5],[397,817,1.3],[370,938,3.1],[433,936,3],[385,973,3.1],[411,988,3.3],[403,1000,3.4],[433,988,3.3],[456,996,3.2],[495,882,1.7],[497,895,2.6],
[778,610,1.9],[858,590,1.8],[862,652,2.1],[858,610,1.7],[1007,342,2],[1040,320,1.3],[1050,347,1.3],[1058,422,1.7],[1075,450,1.8],[1131,462,2.1],[1107,515,1.8],[1125,532,1.3],[1148,535,1.4],[1115,570,1.8],[1055,585,2],[1053,605,2.1],[1112,605,1.9],[1173,507,1.7],[945,270,1.2],[955,275,1.2],[960,300,1.3],[985,242,1.4],[968,240,1.2],[1140,350,1.2],[1160,365,1.5],[1163,390,1.7],[1185,325,1.3],[1200,300,1.2],[1230,300,1.4],[1205,270,1.3],[1168,415,1.9],[1190,405,1.3],[1190,430,1.4],[1205,445,1.2],[1185,465,1.3],[1215,475,1.6],[1262,482,1.5],
[1214,690,2.4],[1188,741,2.3],[1098,771,3.3],[1218,803,3.3],[1203,833,2.3],[1211,845,2.1],[1095,842,2.9],[1068,853,3.3],[903,815,2],[868,925,2],[922,966,2.2],[914,987,1.8],[934,1005,2],[990,965,2.1],[990,985,1.8],[1198,995,3.1],[1076,1024,2.4],[1017,1000,1.8],[948,1012,1.4],[1182,1095,2.7],[1170,1147,3],[1040,1125,2],[1068,1120,2.3],[1357,970,1.5],[1355,1000,1.7],[1350,1032,1.9],[1265,1215,1.7],[1277,1218,1.5],[1268,1228,1.5],[1050,1087,2],[1030,1070,2.5],[1040,1050,2.2],[985,1030,1.7],[1005,1040,1.6],[1020,1035,2],[972,1040,1.8],[1060,1088,2.4],[937,1090,1.8],[910,1135,1.9],[912,1150,2],[870,1110,1.9],[842,1128,1.6],[825,1145,1.7],[850,1160,1.7],[900,1175,1.7],[905,1190,1.6],[793,1180,1.8],[830,1045,1.7],[850,1040,1.4],[785,1055,1.2],
[740,1215,2],[752,1210,1.8],[755,1240,2.2],[775,1255,1.9],[785,1205,1.6],[820,1265,2.1],[918,1213,1.7],[933,1220,1.5],[990,1252,2.2],[1005,1240,2.7],[1018,1222,2.1],[965,1315,2.5],[1013,1300,2.1],[750,1310,2.2],[748,1335,2],[738,1377,1.6],[783,1358,1.4],[820,1352,1.2],[855,1350,1.5],[880,1375,1.5],[887,1338,1.6],[900,1355,1.4],[920,1350,1.4],[942,1317,1.8],[905,1282,1.7],[986,1360,2.3],[1005,1358,1.9],[985,1388,1.8],[957,1405,1.7],[880,1408,1.4],[815,1422,2.2],[838,1438,2],[891,1442,1.8],[773,1468,3.5],[768,1503,3.5],[780,1505,3.5],[815,1502,3.4],[745,1410,1.7],[733,1440,1.4],[755,1490,1.5],[738,1480,2],[905,1503,2.2],[925,1505,2],
[1136,1172,2.8],[1095,1178,2],[1032,1195,2],[1148,1190,2.1],[1112,1222,2.2],[1122,1220,2],[1135,1215,2.5],[1158,1225,2.9],[1068,1225,2.1],[1135,1250,2.5],[1125,1258,2.4],[1180,1258,3],[1193,1263,3],[1108,1270,2.9],[1060,1265,2.2],[1035,1270,2.1],[1080,1270,2.2],[1050,1290,2],[1032,1285,1.9],[1090,1290,2.1],[1120,1280,2],[1158,1290,2.6],[1170,1300,2.3],[1205,1290,2.8],[1050,1312,2.2],[1015,1300,2],[1078,1310,2],[1103,1320,2.8],[1112,1325,2.6],[1150,1325,2.5],[1185,1332,2.5],[1200,1330,2.6],[1040,1330,1.7],[1070,1335,2],[1085,1340,1.9],[1045,1352,2.2],[1025,1358,2.2],[1135,1362,2.2],[1160,1365,2.9],[1070,1368,2.1],[1100,1375,3],[1115,1385,2.3],[1060,1385,1.8],[1075,1395,1.8],[1160,1385,2.3],[1195,1395,2.5],[1225,1410,2.4],[1135,1405,2.3],[1165,1410,2.3],[1090,1405,2.1],[1190,1415,2.4],[1200,1420,2.6],[1090,1440,2.1],[1105,1430,2.4],[1130,1440,2.2],[1150,1435,2.3],[1180,1445,2.1],[1215,1445,2.2],[1230,1458,2.2],[1105,1450,2.5],[1060,1478,2.1],[1045,1475,2],[1090,1475,2.2],[1115,1480,2.4],[1150,1475,2.2],[1170,1480,2.4],[1210,1480,2.4],[1225,1500,2.5],[1240,1505,2.2],[1020,1515,1.6],[1130,1530,2.2],[1155,1495,2.3],[1090,1500,2.1],[1198,1510,2],[1060,1516,2],[1080,1511,2.2],[1105,1511,2.4],[1147,1511,2.3],[1195,1516,2.4],[1225,1508,2.3],[1040,1561,2],[1097,1546,2.1],[1105,1576,3.3],[1155,1561,2.2],[1195,1561,2],[1225,1556,1.8],[1237,1556,2.2],[1127,1591,1.9],[1205,1581,1.9],[1235,1586,2],[1253,1601,1.6],[1268,1624,1.8],[1237,1636,1.5],[1255,1636,1.8],[1195,1661,1.9],[1213,1661,2.3],[1222,1671,1.6],[1040,1621,2],[1030,1646,1.9],[983,1656,2.3],[945,1646,2],[870,1651,2.1],[875,1616,2],[857,1596,1.8],[870,1586,1.8],[905,1506,2.2],[925,1506,2],[1065,1676,2.6],[1045,1681,2.2],[1025,1691,1.7],[1005,1701,2],[1000,1711,2.1],[1040,1711,2],[1040,1741,2.9],[1015,1751,2.1],[998,1764,1.8],[1012,1731,2],[935,1736,2.2],[915,1711,2.2],[910,1731,2.1],[903,1686,1.6],[850,1756,1.6],[845,1781,1.2],[935,1791,2.2],[968,1801,2.2],[1015,1786,1.8],[1005,1774,1.6],
[358,1340,4.4],[297,1343,2.4],[292,1380,3.2],[297,1380,3.3],[363,1385,3.3],[335,1440,3],[385,1450,3],[245,1485,3.3],[385,1478,3.1],[390,1290,3.3],[390,1330,2.5],[296,1535,3],[329,1535,2.8],[456,1530,2.7],[240,1591,3],[343,1579,2.7],[261,1646,3],[283,1671,2.6],[317,1654,2.3],[382,1626,2.3],[383,1671,2.9],[433,1661,2.2],[410,1636,1.5],[485,1686,2.2],[457,1686,1.9],[315,1694,1.9],[298,1721,2.8],[222,1728,2.3],[347,1718,1.9],[412,1731,1.9],[436,1744,1.8],[468,1731,1.9],[480,1766,2],[478,1784,2],[328,1786,2],[345,1806,2.2],[330,1821,2],[370,1818,1],[420,1811,1.7],[282,1846,1.7],[385,1844,1.9],[150,1851,2],[146,1871,2],[222,1879,1.5],[248,1874,1.5],[185,1886,1.7],[190,1921,1.2],[345,1896,1.5],[350,1906,1.8],[398,1881,2.3],[387,1898,1.3],[375,1926,1.2],[395,1946,1.3],[340,1956,1.3],[355,1954,1.5],[370,1996,1],[365,2031,1],[378,2011,1.2],
[676,1676,1.2],[672,1711,1.2],[710,1701,1.1],[730,1756,1.8],[617,1746,3.6],[612,1768,3.7],[628,1778,2.2],[580,1791,2.1],[595,1801,3.4],[590,1814,3.1],[657,1821,2.8],[696,1864,3.6],[613,1896,2],[612,1911,3.8],[670,1906,3.5],[686,1916,3.2],[660,1919,3.6],[640,1941,3.2],[618,1941,2.7],[620,1956,2.8],[620,1976,3.5],[785,1946,2],[778,1966,1.8],[771,1984,1.3],[876,1891,2.9],[1295,1856,1.8],[1283,1931,1],[923,2013,2.4],[936,2014,2.4],[627,2161,1.7],[618,2184,1.6],[549,2356,2],[548,2376,1.9],[548,2396,1.7],[675,2356,2.5],[680,2361,2.6],[690,2346,2.7],[705,2331,2.4],[717,2336,2.5],[672,2366,2.2],[693,2336,2.8],[757,2304,1.2],[792,2331,2.4],
[1097,2068,2.2],[1105,2088,2.4],[930,2086,1.7],[890,2086,3.3],[902,2124,3],[860,2124,3.4],[850,2136,3.4],[875,2131,3.2],[887,2144,4.5],[851,2156,4.4],[910,2146,3.8],[950,2111,3.2],[925,2116,2.5],[960,2131,2.9],[1000,2146,2.4],[965,2166,3.6],[860,2179,3.9],[885,2171,3.2],[830,2186,3.8],[920,2176,3],[890,2189,3.6],[878,2201,2.8],[895,2211,4.3],[915,2196,3.5],[1012,2201,4],[1005,2171,3.6],[1020,2161,2.6],[990,2186,2.8],[1062,2186,3.6],[1040,2186,2.9],[1080,2146,2.6],[1113,2126,2.7],[1100,2161,2.8],[1115,2161,3],[1080,2176,2.6],[1100,2186,2.7],[1120,2196,2.9],[1125,2226,2.8],[940,2206,3.4],[960,2211,2.8],[985,2221,3],[1015,2226,3.3],[1045,2211,3.3],[1065,2221,2.6],[1090,2216,2.6],[1110,2221,2.5],[1030,2234,3.6],[855,2236,3.2],[880,2231,3.2],[900,2238,4.6],[918,2241,3.7],[945,2236,3.3],[965,2241,3.4],[815,2251,3.1],[835,2263,3.4],[855,2246,2.8],[875,2256,4.7],[890,2256,3.5],[905,2266,3.6],[925,2256,3.5],[938,2276,4],[950,2256,3.5],[965,2276,3.3],[988,2251,2.3],[1008,2268,3.2],[1040,2261,3],[1060,2261,2.9],[1080,2256,2.7],[1095,2266,2.7],[1113,2248,3.2],[808,2266,3.1],[905,2286,3.3],[930,2296,3.4],[955,2286,3.6],[918,2281,3.3],[1028,2286,3.7],[1045,2291,2],[1065,2296,3.7],[1085,2281,3],[1100,2296,2.8],[1090,2311,3.2],[828,2294,2.8],[845,2306,3.1],[832,2311,2.5],[858,2322,3.7],[967,2318,2.5],[995,2293,2.9],[990,2331,2.4],[1070,2326,3.6],[1045,2328,2.7],[1085,2341,3.2],[1002,2354,3],[1020,2351,2.9],[1032,2348,4.3],[1070,2356,3.7],[1050,2361,3.6],[1062,2368,4.1],[1015,2371,2.8],[1030,2371,3.1],[1050,2381,3.2],[1082,2381,3.3],[828,2344,2.7],[840,2346,3],[827,2361,3.8],[825,2376,4.3],[855,2354,2.9],[838,2372,2.9],[862,2384,3],[803,2406,2.9],[836,2408,3],
[709,2501,1.5],[705,2526,1.7],[695,2551,2],[705,2551,2.5],[700,2581,2.7],[708,2601,3.1],[720,2621,3.4],[735,2636,3.2],[745,2626,3.5],[760,2606,3.4],[768,2591,3.2],[738,2511,3.2],[725,2541,2.8],[748,2551,3],[765,2526,3.6],[778,2516,3.3],[790,2526,3.4],[770,2556,3.2],[795,2556,3.2],[812,2536,3],[830,2506,2.5],[830,2546,2.7],[848,2536,2.6],[860,2551,2.4],[872,2511,3.6],[875,2536,2.9],[870,2566,2.6],[850,2576,3.5],[863,2586,2.5],[833,2581,2.3],[835,2601,2.3],[836,2621,2.2],[780,2461,3],[775,2481,2.8],[765,2496,2.9],[790,2441,2],[825,2454,2.7],[830,2481,2.4],[833,2516,2.2],[855,2454,1.9],[873,2458,2.8],[865,2474,1.5],[840,2511,2.3],[908,2456,2.4],[917,2478,4.5],[930,2494,3.6],[935,2516,2.8],[942,2531,2.6],[952,2558,4.4],[960,2576,3.2],[967,2596,4.2],[975,2611,3.1],
[990,2626,3.2],[1005,2646,3],[995,2686,3.6],[1020,2691,3.7],[1010,2716,3.5],[1055,2656,3.7],[1070,2676,3.5],[1075,2711,3.1],[1085,2721,3.3],[1097,2743,2.9],[1085,2766,3.1],[1060,2736,3.8],[1030,2751,3.8],[1028,2776,3.7],[1015,2771,3.3],[1040,2796,3.5],[1060,2801,3.2],[1075,2796,3.1],[1023,2831,3.6],[1044,2848,3.8],[1065,2821,3],[1000,2736,3.2],[985,2701,2.9],[1058,2636,2.9]];

const viridis=['#440154','#482475','#414487','#355f8d','#2a788e','#21918c','#22a884','#44bf70','#7ad151','#bddf26','#fde725'];
const palette=['#1f77b4','#ff7f0e','#279e68','#d62728','#aa40fc'];
const FONT='"Liberation Sans",Arial,sans-serif';
const DOT=12, MID=26, PROXMID=36, CORE=40, GIANT=90, DARK=viridis[0];
const S=0.6637;
const px=v=>v*S;
const plotTop=px(52), plotH=px(1848);
const panels=[{l:px(53),w:px(1780)},{l:px(2145),w:px(1779)},{l:px(4237),w:px(1778)}];
const bars=[{l:px(3944),w:px(61)},{l:px(6036),w:px(60)}];

const grid=[],xAxis=[],yAxis=[],series=[],title=[],visualMap=[];
panels.forEach((p,i)=>{
  grid.push({left:p.l,top:plotTop,width:p.w,height:plotH,show:true,z:i?2:0,backgroundColor:'#fff',borderColor:'#1a1a1a',borderWidth:2});
  yAxis.push({gridIndex:i,type:'value',inverse:true,min:81,max:2979,z:3,name:'UMAP2',nameLocation:'middle',nameGap:6,nameRotate:90,
    nameTextStyle:{fontSize:20,fontFamily:FONT,color:'#000'},axisLine:{show:false},axisTick:{show:false},axisLabel:{show:false},splitLine:{show:false}});
  title.push({text:panelTitles[i],left:p.l+p.w/2,top:9,textAlign:'center',textStyle:{fontSize:20,fontWeight:'normal',fontFamily:FONT,color:'#000'}});
});
function baseX(g){xAxis.push({gridIndex:g,type:'value',min:38,max:1306,z:3,name:'UMAP1',nameLocation:'middle',nameGap:4,
  nameTextStyle:{fontSize:20,fontFamily:FONT,color:'#000'},axisLine:{show:false},axisTick:{show:false},axisLabel:{show:false},splitLine:{show:false}});return xAxis.length-1;}
function spotX(g,a,b){xAxis.push({gridIndex:g,type:'value',min:a,max:b,show:false});return xAxis.length-1;}

const x0=baseX(0);
function scat(name,data,size,color,xi,yi,z){series.push({type:'scatter',name,data,symbolSize:size,xAxisIndex:xi,yAxisIndex:yi,z,
  itemStyle:color?{color,opacity:1}:{opacity:1},silent:true,animation:false,progressive:0,large:false,emphasis:{disabled:true}});return series.length-1;}
const c=compartments;
scat(c[0],epiCore,CORE,palette[0],x0,0,2); scat(c[0],epiMid,MID,palette[0],x0,0,2); scat(c[0],epiDots,DOT,palette[0],x0,0,2);
scat(c[2],proxMid,PROXMID,palette[2],x0,0,2); scat(c[2],proxDots,DOT,palette[2],x0,0,2);
scat(c[3],tumCore,CORE,palette[3],x0,0,2); scat(c[3],tumMid,MID,palette[3],x0,0,2); scat(c[3],tumDots,DOT,palette[3],x0,0,2);
scat(c[4],immGiant,GIANT,palette[4],x0,0,2); scat(c[4],immCore,CORE,palette[4],x0,0,2); scat(c[4],immMid,MID,palette[4],x0,0,2); scat(c[4],immDots,DOT,palette[4],x0,0,2);
scat(c[1],orangeCore,CORE,palette[1],x0,0,2); scat(c[1],orangeMid,MID,palette[1],x0,0,2); scat(c[1],orangeDots,DOT,palette[1],x0,0,2);
scat(c[4],immStray,DOT,palette[4],x0,0,2); scat(c[1],orangeStray,DOT,palette[1],x0,0,2);
scat(c[3],tumStray,DOT,palette[3],x0,0,2); scat(c[0],epiStray,DOT,palette[0],x0,0,2);

const allCore=[...epiCore,...tumCore,...immCore,...orangeCore];
const allMid=[...epiMid,...tumMid,...immMid,...orangeMid];
const allDots=[...epiDots,...proxDots,...tumDots,...immDots,...orangeDots,...immStray,...orangeStray,...tumStray,...epiStray];
function genePanel(g,proxTint,edges,tints,mids,spots,max,a,b){
  const xb=baseX(g), xs=spotX(g,a,b);
  scat('base',immGiant,GIANT,DARK,xb,g,3); scat('base',allCore,CORE,DARK,xb,g,3); scat('base',proxMid,PROXMID,DARK,xb,g,3); scat('base',allMid,MID,DARK,xb,g,3); scat('base',allDots,DOT,DARK,xb,g,3);
  const idx=[];
  if(proxTint.length) idx.push(scat('proxTint',proxTint,PROXMID,null,xb,g,4));
  if(tints.length) idx.push(scat('tint',tints,CORE,null,xs,g,4));
  idx.push(scat('mid',mids,MID,null,xs,g,4));
  if(edges.length) idx.push(scat('edge',edges,DOT,null,xb,g,4));
  const sorted=spots.slice().sort((p,q)=>p[2]-q[2]);
  idx.push(scat('spot',sorted,DOT,null,xs,g,5));
  visualMap.push({type:'continuous',show:false,dimension:2,min:0,max,seriesIndex:idx,inRange:{color:viridis}});
}
genePanel(1,proxMid.map((p,i)=>[p[0],p[1],proxMidAss1[i]]),[],[],ass1Mids,ass1Spots,ass1Max,35,1430);
genePanel(2,[],epas1Edges,epas1Tints,epas1Mids,epas1Spots,epas1Max,67,1447);

function colorbar(b,max,ticks,fmt){
  const g=grid.length;
  grid.push({left:b.l,top:plotTop,width:b.w,height:plotH,show:true,z:6,backgroundColor:'transparent',borderColor:'#1a1a1a',borderWidth:2});
  xAxis.push({gridIndex:g,type:'category',data:['c'],show:false});
  yAxis.push({gridIndex:g,type:'value',position:'right',min:0,max,z:6,axisLine:{show:false},splitLine:{show:false},
    axisTick:{show:true,length:5.5,customValues:ticks,lineStyle:{color:'#1a1a1a',width:1.3}},
    axisLabel:{show:true,customValues:ticks,margin:11.5,fontSize:19,fontFamily:FONT,color:'#000',formatter:fmt}});
  series.push({type:'bar',data:[max],xAxisIndex:xAxis.length-1,yAxisIndex:yAxis.length-1,barWidth:'100%',z:3,silent:true,animation:false,
    itemStyle:{color:{type:'linear',x:0,y:1,x2:0,y2:0,colorStops:viridis.map((col,i)=>({offset:i/10,color:col}))}}});
}
colorbar(bars[0],ass1Max,ass1Ticks,v=>String(Math.round(v)));
colorbar(bars[1],epas1Max,epas1Ticks,v=>v.toFixed(1));

const chart=echarts.init(document.getElementById('c'),null,{renderer:'canvas'});
chart.setOption({animation:false,backgroundColor:'#fff',title,grid,xAxis,yAxis,series,visualMap,
  legend:{show:true,orient:'vertical',left:px(1867)-5.2,top:px(895)-9.5,padding:0,z:1,data:compartments,selectedMode:false,
    icon:'circle',itemWidth:10.4,itemHeight:10.4,itemGap:7.8,
    textStyle:{fontSize:19,lineHeight:19,fontFamily:FONT,color:'#000',padding:[0,0,0,2]}}
});
</script></body></html>
